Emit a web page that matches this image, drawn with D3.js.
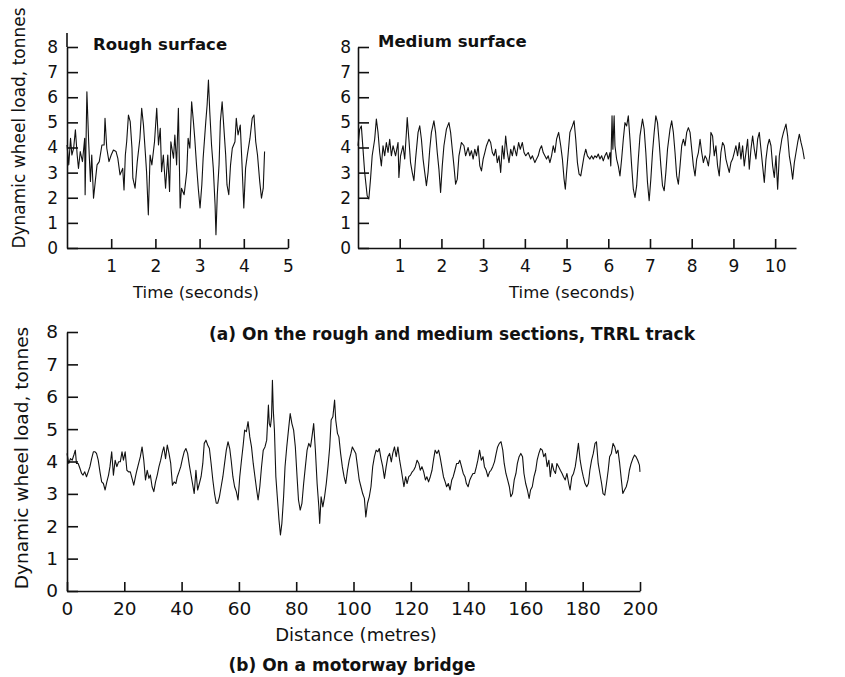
<!DOCTYPE html>
<html>
<head>
<meta charset="utf-8">
<script src="https://cdn.jsdelivr.net/npm/d3@7"></script>
<style>
  body { margin: 0; background: #fff; }
  svg { display: block; }
  .tick text { font-family: "DejaVu Sans", sans-serif; fill: #111; }
  .axis path, .axis line { stroke: #111; stroke-width: 1.6; }
  .trace { fill: none; stroke: #111; stroke-width: 1.1; stroke-linejoin: round; }
  .lbl { font-family: "DejaVu Sans", sans-serif; fill: #111; }
  .ttl { font-family: "DejaVu Sans", sans-serif; font-weight: bold; fill: #111; }
</style>
</head>
<body>
<div id="chart"></div>
<script>
// values
const loadTicks = [0, 1, 2, 3, 4, 5, 6, 7, 8];
const roughTicks = [1, 2, 3, 4, 5];
const mediumTicks = [1, 2, 3, 4, 5, 6, 7, 8, 9, 10];
const bridgeTicks = [0, 20, 40, 60, 80, 100, 120, 140, 160, 180, 200];

// (a) rough surface, seconds / tonnes
const roughTime = [0.00,0.04,0.08,0.11,0.15,0.19,0.23,0.26,0.30,0.35,0.40,0.41,0.45,0.49,0.53,0.56,0.60,0.64,0.68,0.73,0.79,0.84,0.86,0.90,0.95,1.00,1.05,1.11,1.15,1.20,1.26,1.29,1.32,1.35,1.39,1.43,1.47,1.49,1.54,1.59,1.65,1.69,1.73,1.77,1.80,1.84,1.88,1.92,1.98,2.03,2.07,2.11,2.14,2.18,2.23,2.28,2.32,2.35,2.41,2.44,2.48,2.52,2.56,2.59,2.65,2.71,2.74,2.78,2.82,2.86,2.89,2.93,2.97,3.01,3.05,3.08,3.14,3.17,3.20,3.23,3.27,3.31,3.35,3.37,3.40,3.44,3.47,3.51,3.55,3.59,3.62,3.66,3.70,3.74,3.80,3.83,3.87,3.92,3.96,4.00,4.04,4.08,4.14,4.19,4.23,4.27,4.31,4.36,4.40,4.44,4.47];
const roughLoad = [4.10,3.31,4.37,3.70,3.97,4.70,3.70,3.17,3.84,3.44,4.37,2.12,6.22,4.23,2.65,3.70,1.98,2.65,3.31,3.44,4.10,4.10,5.16,3.97,3.44,3.70,3.90,3.84,3.57,2.91,3.17,2.31,3.70,4.23,5.29,5.03,3.97,2.78,2.38,3.44,4.37,5.56,4.89,3.84,3.04,1.32,3.70,3.31,4.23,5.56,4.10,4.76,3.04,3.70,2.38,3.70,2.25,4.23,3.57,4.50,3.31,5.56,1.59,2.38,2.12,3.04,4.37,3.97,5.82,5.03,4.37,3.31,2.38,1.59,2.51,3.57,5.03,5.69,6.68,5.42,4.10,3.17,1.72,0.53,2.12,3.31,5.03,5.82,4.76,3.70,2.51,2.12,3.31,3.97,4.23,5.16,4.50,4.89,3.31,1.59,3.17,3.70,4.37,5.16,5.29,4.23,3.70,2.65,1.98,2.38,3.84];

// (a) medium surface, seconds / tonnes
const mediumTime = [0.00,0.04,0.08,0.16,0.22,0.26,0.30,0.34,0.40,0.44,0.48,0.52,0.56,0.60,0.64,0.68,0.72,0.76,0.80,0.84,0.90,0.96,0.98,1.02,1.08,1.12,1.16,1.18,1.22,1.26,1.30,1.34,1.38,1.44,1.48,1.52,1.56,1.60,1.64,1.68,1.72,1.76,1.82,1.86,1.90,1.94,1.98,2.02,2.06,2.12,2.18,2.22,2.26,2.30,2.34,2.38,2.42,2.48,2.54,2.58,2.64,2.68,2.72,2.76,2.80,2.84,2.88,2.92,2.96,3.00,3.04,3.08,3.14,3.18,3.22,3.26,3.30,3.34,3.38,3.42,3.46,3.50,3.54,3.58,3.62,3.66,3.70,3.74,3.80,3.85,3.89,3.94,3.98,4.02,4.08,4.14,4.18,4.24,4.28,4.32,4.36,4.40,4.44,4.48,4.52,4.56,4.60,4.64,4.68,4.72,4.76,4.81,4.86,4.90,4.94,4.97,5.00,5.04,5.08,5.14,5.18,5.22,5.26,5.30,5.34,5.38,5.42,5.46,5.50,5.56,5.60,5.64,5.68,5.72,5.76,5.80,5.84,5.88,5.92,5.96,6.00,6.04,6.06,6.09,6.11,6.14,6.16,6.20,6.24,6.28,6.32,6.36,6.40,6.44,6.48,6.52,6.56,6.60,6.64,6.68,6.72,6.76,6.82,6.86,6.90,6.94,6.98,7.02,7.06,7.10,7.14,7.18,7.22,7.26,7.30,7.34,7.38,7.42,7.48,7.52,7.56,7.60,7.64,7.68,7.72,7.76,7.80,7.84,7.88,7.92,7.96,8.00,8.04,8.08,8.12,8.16,8.20,8.24,8.28,8.32,8.36,8.40,8.44,8.46,8.50,8.54,8.58,8.62,8.66,8.70,8.74,8.78,8.82,8.86,8.90,8.94,8.98,9.02,9.06,9.10,9.14,9.18,9.22,9.26,9.30,9.34,9.38,9.42,9.46,9.50,9.54,9.58,9.62,9.66,9.70,9.74,9.78,9.82,9.86,9.90,9.94,9.98,10.02,10.06,10.10,10.16,10.20,10.26,10.30,10.34,10.38,10.42,10.46,10.50,10.54,10.58,10.62,10.66,10.70];
const mediumLoad = [4.07,4.73,4.86,3.01,2.08,1.95,2.74,3.67,4.33,5.13,4.60,3.80,3.27,4.07,3.67,4.20,3.80,4.33,3.67,4.07,3.67,4.20,2.81,3.67,4.07,3.54,4.60,5.19,4.33,3.40,3.01,2.68,3.54,4.60,4.86,4.33,3.54,3.01,2.48,3.01,3.93,4.60,5.06,4.60,3.80,3.14,2.21,3.27,4.07,4.73,4.99,4.60,3.93,3.27,2.54,2.74,3.67,4.20,4.07,3.67,4.00,3.67,3.87,3.54,3.93,3.67,4.07,3.27,3.07,3.54,3.80,4.07,4.33,4.20,3.80,3.67,3.93,3.40,3.67,3.01,4.07,3.54,4.46,3.80,3.40,3.93,3.67,4.07,3.67,4.20,3.93,4.20,3.80,3.67,3.80,3.54,3.67,3.40,3.54,3.67,3.93,4.07,3.80,3.67,3.54,3.67,3.40,3.67,4.07,3.80,4.33,4.60,4.07,3.54,2.74,2.34,3.01,3.80,4.60,4.86,5.06,4.33,3.40,2.94,2.87,3.27,3.67,3.93,3.67,3.54,3.67,3.54,3.67,3.60,3.74,3.54,3.67,3.47,3.67,3.80,3.54,3.80,3.27,5.26,3.93,5.26,4.07,3.54,3.27,2.87,3.54,4.33,4.99,4.86,5.26,4.33,3.27,2.34,2.01,2.48,3.54,4.46,5.13,4.73,3.80,2.61,1.88,2.74,3.80,4.60,5.26,4.99,4.20,3.27,2.48,2.28,3.01,3.93,4.73,5.06,4.60,3.80,2.87,2.54,3.27,4.07,4.33,4.07,4.60,4.79,4.60,3.93,3.27,2.87,3.54,3.80,4.33,3.80,3.40,3.67,3.54,3.27,3.80,4.60,4.46,3.67,4.07,3.27,2.87,3.80,4.20,4.07,3.54,3.27,3.01,3.40,3.54,3.80,4.07,3.67,4.20,3.54,4.07,3.27,3.80,4.33,3.14,3.93,4.46,3.93,3.54,4.33,4.60,3.93,3.27,2.61,3.54,4.07,4.33,4.07,3.27,2.81,3.67,2.34,3.67,4.33,4.60,4.93,4.46,3.67,3.27,2.74,3.40,3.80,4.20,4.53,4.20,3.93,3.54];

// (b) motorway bridge, metres / tonnes
const bridgeDistance = [0.0,0.6,1.2,1.8,2.4,2.9,3.3,3.9,4.5,5.1,5.6,6.2,6.8,7.4,8.0,8.6,9.2,9.8,10.3,10.9,11.5,12.1,12.7,13.3,13.9,14.5,15.0,15.6,16.2,16.8,17.4,18.0,18.6,19.2,19.7,20.3,20.9,21.5,22.1,22.7,23.3,23.9,24.4,25.0,25.6,26.2,26.8,27.4,28.0,28.6,29.1,29.7,30.3,30.9,31.5,32.1,32.7,33.3,33.8,34.4,35.0,35.6,36.2,36.8,37.4,38.0,38.5,39.1,39.7,40.3,40.9,41.5,42.1,42.7,43.2,43.8,44.4,45.0,45.6,46.2,46.8,47.4,47.9,48.5,49.1,49.7,50.3,50.9,51.5,52.1,52.6,53.2,53.8,54.4,55.0,55.6,56.2,56.8,57.3,57.9,58.5,59.1,59.7,60.3,60.9,61.5,62.0,62.6,63.2,63.8,64.4,65.0,65.6,66.2,66.7,67.3,67.9,68.5,69.1,69.7,70.3,70.6,71.0,71.4,71.7,72.0,72.4,72.9,73.4,74.0,74.5,75.0,75.6,76.1,76.7,77.3,77.9,78.5,79.1,79.7,80.3,80.8,81.4,82.0,82.6,83.2,83.8,84.4,85.0,85.5,86.1,86.7,87.3,87.9,88.2,88.7,89.3,89.9,90.5,91.1,91.7,92.2,92.8,93.4,93.8,94.4,94.9,95.5,96.1,96.7,97.3,97.9,98.5,99.1,99.6,100.2,100.8,101.4,102.0,102.6,103.2,103.8,104.3,104.9,105.5,106.1,106.7,107.3,107.9,108.5,109.0,109.6,110.2,110.8,111.4,112.0,112.6,113.2,113.7,114.3,114.9,115.5,116.1,116.7,117.6,118.2,118.7,119.3,119.9,120.5,121.0,121.6,122.2,122.8,123.3,123.9,124.5,125.1,125.6,126.2,126.8,127.4,127.9,128.5,129.1,129.7,130.2,130.8,131.4,132.0,132.5,133.1,133.7,134.3,134.8,135.4,136.0,136.6,137.1,137.7,138.3,138.9,139.4,140.0,140.6,141.1,141.7,142.3,142.9,143.4,144.0,144.6,145.2,145.7,146.3,146.9,147.5,148.0,148.6,149.2,149.8,150.3,150.9,151.5,152.1,152.6,153.2,153.8,154.4,154.9,155.5,156.1,156.7,157.2,157.8,158.4,159.0,159.5,160.1,160.7,161.3,161.8,162.4,163.0,163.6,164.1,164.7,165.3,165.9,166.4,167.0,167.6,168.2,168.7,169.3,169.9,170.5,171.0,171.6,172.2,172.8,173.3,173.9,174.5,175.1,175.6,176.2,176.8,177.4,177.9,178.5,179.1,179.7,180.2,180.8,181.4,182.0,182.5,183.1,183.7,184.3,184.8,185.4,186.0,186.6,187.1,187.7,188.3,188.9,189.4,190.0,190.6,191.2,191.7,192.3,192.9,193.5,194.0,194.6,195.2,195.8,196.3,196.9,197.5,198.1,198.6,199.2,199.8,200.0];
const bridgeLoad = [4.25,3.94,4.09,4.04,4.20,4.35,3.94,3.94,3.79,3.63,3.58,3.68,3.53,3.68,3.84,4.09,4.30,4.30,4.25,4.04,3.68,3.37,3.32,3.12,3.37,3.58,3.84,4.30,3.58,4.04,3.84,3.99,3.99,4.30,4.04,4.30,3.73,3.68,3.68,3.48,3.27,3.53,3.73,3.94,4.15,4.45,4.04,3.43,3.73,3.48,3.58,3.22,3.07,3.37,3.58,3.84,4.04,4.30,4.45,4.09,4.51,4.25,3.94,3.27,3.37,3.32,3.53,3.68,3.84,4.09,4.30,4.40,4.25,3.89,3.63,3.32,3.01,3.73,3.12,3.32,3.53,3.94,4.56,4.66,4.51,4.40,3.94,3.43,3.01,2.71,2.71,2.91,3.22,3.53,3.94,4.35,4.61,4.40,4.04,3.53,3.22,3.07,2.81,3.53,4.04,4.51,4.97,4.92,5.23,4.76,4.45,3.94,3.53,3.12,2.81,3.22,3.84,4.35,4.45,4.66,5.74,5.17,5.07,5.38,6.51,5.59,4.97,3.53,2.91,2.19,1.73,2.09,2.91,3.84,4.45,4.97,5.48,5.17,4.97,4.45,3.53,2.81,2.50,2.71,3.32,3.84,4.35,4.56,4.45,4.76,5.17,4.35,3.32,2.60,2.09,2.91,2.60,2.91,3.32,3.84,4.45,5.28,5.38,5.90,5.28,4.87,4.76,4.25,3.84,3.53,3.32,3.73,4.04,4.25,4.45,4.35,4.25,3.84,3.43,3.22,3.01,2.86,2.29,2.71,2.91,3.22,3.84,4.15,4.35,4.30,4.40,4.09,3.84,3.48,3.84,4.15,4.25,3.99,4.25,4.45,4.15,4.45,4.04,3.73,3.22,3.53,3.32,3.53,3.58,3.68,3.73,3.84,4.04,3.94,3.73,3.84,3.68,3.43,3.53,3.37,3.53,3.73,4.04,4.35,4.25,4.35,4.15,3.84,3.53,3.37,3.22,3.32,3.12,3.43,3.53,3.73,3.94,3.94,4.04,3.84,3.63,3.53,3.32,3.22,3.43,3.53,3.63,3.63,3.84,4.04,4.35,4.04,4.15,3.84,3.73,3.53,3.68,3.73,3.84,3.99,4.25,4.45,4.56,4.61,4.35,3.94,3.63,3.43,3.22,2.91,3.01,3.43,3.63,3.94,4.15,4.25,4.15,3.63,3.32,3.12,2.86,3.12,3.22,3.53,3.73,4.04,4.25,4.40,4.35,4.15,4.25,3.84,4.04,3.53,3.94,3.73,3.63,3.94,3.84,3.73,3.63,3.53,3.43,3.63,3.32,3.12,3.53,3.63,3.84,4.15,4.56,4.04,3.73,3.53,3.32,3.22,3.32,3.73,4.04,4.25,4.56,4.61,3.94,3.63,3.32,3.01,2.96,3.32,3.73,4.15,4.25,4.56,4.45,4.25,4.35,3.94,3.43,3.01,3.12,3.22,3.43,3.73,3.94,4.09,4.20,4.15,4.04,3.89,3.68];

const svg = d3.select("#chart").append("svg")
  .attr("width", 845)
  .attr("height", 677);

svg.append("rect").attr("width", 845).attr("height", 677).attr("fill", "#fff");

const drawPanel = (o) => {
  const x = d3.scaleLinear().domain(o.xDomain).range(o.xRange);
  const y = d3.scaleLinear().domain([0, 8]).range(o.yRange);

  const xAxis = d3.axisBottom(x)
    .tickValues(o.xTicks)
    .tickSizeInner(-9)
    .tickSizeOuter(0)
    .tickPadding(o.xPad)
    .tickFormat(d3.format("d"));

  const yAxis = d3.axisLeft(y)
    .tickValues(loadTicks)
    .tickSizeInner(-11)
    .tickSizeOuter(0)
    .tickPadding(o.yPad)
    .tickFormat(d3.format("d"));

  const gx = svg.append("g")
    .attr("class", "axis")
    .attr("transform", `translate(0,${y(0)})`)
    .call(xAxis);
  gx.selectAll("text").attr("font-size", o.fs).attr("font-family", null);

  const gy = svg.append("g")
    .attr("class", "axis")
    .attr("transform", `translate(${x(0)},0)`)
    .call(yAxis);
  gy.selectAll("text").attr("font-size", o.fs).attr("font-family", null);

  // the rough panel's y axis runs a little above the 8 tick
  if (o.yTop) {
    gy.append("line")
      .attr("x1", 0).attr("x2", 0)
      .attr("y1", y(8)).attr("y2", y(o.yTop));
  }

  const line = d3.line()
    .x((d) => x(d[0]))
    .y((d) => y(d[1]));

  svg.append("path")
    .datum(d3.zip(o.xs, o.ys))
    .attr("class", "trace")
    .attr("d", line);

  if (o.title) {
    svg.append("text")
      .attr("class", "ttl")
      .attr("x", o.title.x)
      .attr("y", o.title.y)
      .attr("font-size", 16.5)
      .text(o.title.text);
  }

  svg.append("text")
    .attr("class", "lbl")
    .attr("x", o.xLabel.x)
    .attr("y", o.xLabel.y)
    .attr("text-anchor", "middle")
    .attr("font-size", o.xLabel.fs)
    .text(o.xLabel.text);

  if (o.yLabel) {
    svg.append("text")
      .attr("class", "lbl")
      .attr("transform", `translate(${o.yLabel.x},${o.yLabel.y}) rotate(-90)`)
      .attr("text-anchor", "middle")
      .attr("font-size", o.yLabel.fs)
      .text("Dynamic wheel load, tonnes");
  }
};

drawPanel({
  xDomain: [0, 5], xRange: [67, 288], yRange: [248, 47],
  xTicks: roughTicks, xPad: 12, yPad: 9, fs: 17, yTop: 8.56,
  xs: roughTime, ys: roughLoad,
  title: { text: "Rough surface", x: 93, y: 50 },
  xLabel: { text: "Time (seconds)", x: 196, y: 298, fs: 16.5 },
  yLabel: { x: 25, y: 128, fs: 17 }
});

drawPanel({
  xDomain: [0, 10.5], xRange: [358, 796], yRange: [248, 47],
  xTicks: mediumTicks, xPad: 12, yPad: 7, fs: 17,
  xs: mediumTime, ys: mediumLoad,
  title: { text: "Medium surface", x: 378, y: 47 },
  xLabel: { text: "Time (seconds)", x: 572, y: 298, fs: 16.5 }
});

drawPanel({
  xDomain: [0, 200], xRange: [67, 640], yRange: [591, 332],
  xTicks: bridgeTicks, xPad: 11, yPad: 9, fs: 18.5,
  xs: bridgeDistance, ys: bridgeLoad,
  xLabel: { text: "Distance (metres)", x: 356, y: 641, fs: 18 },
  yLabel: { x: 28, y: 458, fs: 18.5 }
});

svg.append("text")
  .attr("class", "ttl")
  .attr("x", 452).attr("y", 340)
  .attr("text-anchor", "middle")
  .attr("font-size", 17)
  .text("(a) On the rough and medium sections, TRRL track");

svg.append("text")
  .attr("class", "ttl")
  .attr("x", 352).attr("y", 671)
  .attr("text-anchor", "middle")
  .attr("font-size", 17)
  .text("(b) On a motorway bridge");
</script>
</body>
</html>
